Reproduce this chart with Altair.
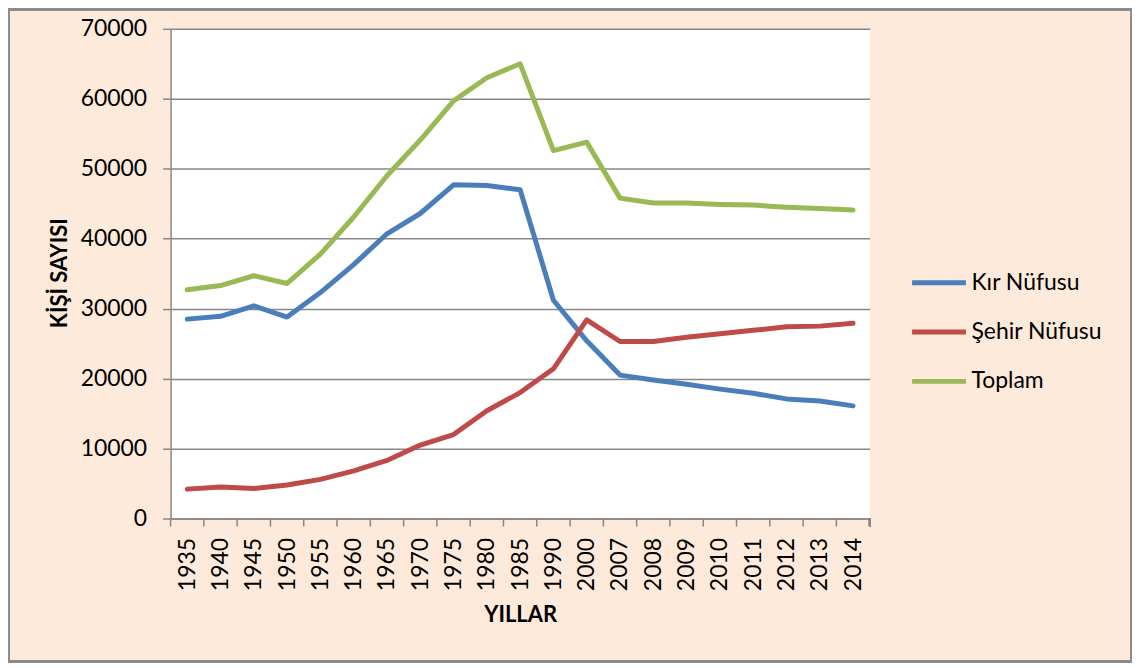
import altair as alt
import pandas as pd

years = ["1935", "1940", "1945", "1950", "1955", "1960", "1965", "1970", "1975",
         "1980", "1985", "1990", "2000", "2007", "2008", "2009", "2010", "2011",
         "2012", "2013", "2014"]
kir = [28500, 28900, 30400, 28800, 32300, 36300, 40700, 43600, 47700, 47600,
       47000, 31200, 25400, 20500, 19800, 19200, 18500, 17900, 17100, 16800, 16100]
sehir = [4200, 4500, 4300, 4800, 5600, 6800, 8300, 10500, 12000, 15400,
         18000, 21400, 28400, 25300, 25300, 25900, 26400, 26900, 27400, 27500, 27900]
toplam = [32700, 33300, 34700, 33600, 37800, 43100, 49000, 54100, 59700, 63000,
          65000, 52600, 53800, 45800, 45100, 45100, 44900, 44800, 44500, 44300, 44100]
series = ["Kır Nüfusu", "Şehir Nüfusu", "Toplam"]
colors = ["#4A7EBB", "#BE4B48", "#98B954"]
y_ticks = [0, 10000, 20000, 30000, 40000, 50000, 60000, 70000]

rows = []
for name, vals in zip(series, [kir, sehir, toplam]):
    for yr, v in zip(years, vals):
        rows.append({"Yıl": yr, "Seri": name, "Değer": v})
df = pd.DataFrame(rows)
ticks_df = pd.DataFrame({"Yıl": years})

W, H = 701, 491
PL, PT, PR, PB = 163, 20, 263, 144
FONT = "Lato"
FS = 23
GRAY = "#878787"
step = W / len(years)

xenc = alt.X("Yıl:N", sort=years,
             scale=alt.Scale(type="point", padding=0.5),
             axis=alt.Axis(title="YILLAR", labelAngle=-90, ticks=False,
                           labelPadding=19, domainColor=GRAY, domainWidth=1.5,
                           titleY=96, titleBaseline="middle", grid=False))

lines = alt.Chart(df).mark_line(strokeWidth=5, strokeCap="round", strokeJoin="round").encode(
    x=xenc,
    y=alt.Y("Değer:Q",
            scale=alt.Scale(domain=[0, 70000], nice=False),
            axis=alt.Axis(title="KİŞİ SAYISI", values=y_ticks, format="d",
                          tickSize=8, tickColor=GRAY, tickWidth=1.5,
                          domainColor=GRAY, domainWidth=1.5, labelPadding=16,
                          gridColor=GRAY, gridWidth=1.5,
                          titleX=-111, titleY=H / 2 - 1, titleBaseline="middle",
                          titleAlign="center", titleAngle=270)),
    color=alt.Color("Seri:N", sort=series,
                    scale=alt.Scale(domain=series, range=colors),
                    legend=alt.Legend(title=None, orient="none",
                                      legendX=741, legendY=225,
                                      symbolType="stroke", symbolStrokeWidth=5,
                                      symbolSize=2916, rowPadding=7.5,
                                      labelFontSize=FS, labelFont=FONT,
                                      labelColor="black", labelOffset=3)),
    order=alt.Order("Seri:N"),
)

xticks = alt.Chart(ticks_df).mark_rule(color=GRAY, strokeWidth=1.5, xOffset=-step / 2).encode(
    x=alt.X("Yıl:N", sort=years),
    y=alt.value(H), y2=alt.value(H + 8),
)
last_tick = alt.Chart(ticks_df).mark_rule(color=GRAY, strokeWidth=1.5).encode(
    x=alt.value(W), y=alt.value(H), y2=alt.value(H + 8),
)
frame = alt.Chart(ticks_df).mark_rect(fill=None, stroke="#8c8c8c", strokeWidth=2).encode(
    x=alt.value(-PL + 1), x2=alt.value(W + PR - 1),
    y=alt.value(-PT + 1), y2=alt.value(H + PB - 1),
)

chart = alt.layer(frame, xticks, last_tick, lines).properties(
    width=W, height=H,
    padding={"left": PL, "top": PT, "right": PR, "bottom": PB},
    autosize=alt.AutoSizeParams(type="none"),
    background="#FDEADA",
).configure_view(
    fill="white", stroke=None
).configure_axis(
    labelFont=FONT, labelFontSize=FS, labelColor="black",
    titleFont=FONT, titleFontSize=22, titleFontWeight="bold", titleColor="black",
)

chart.save("out.html", embed_options={"renderer": "svg", "actions": False})
